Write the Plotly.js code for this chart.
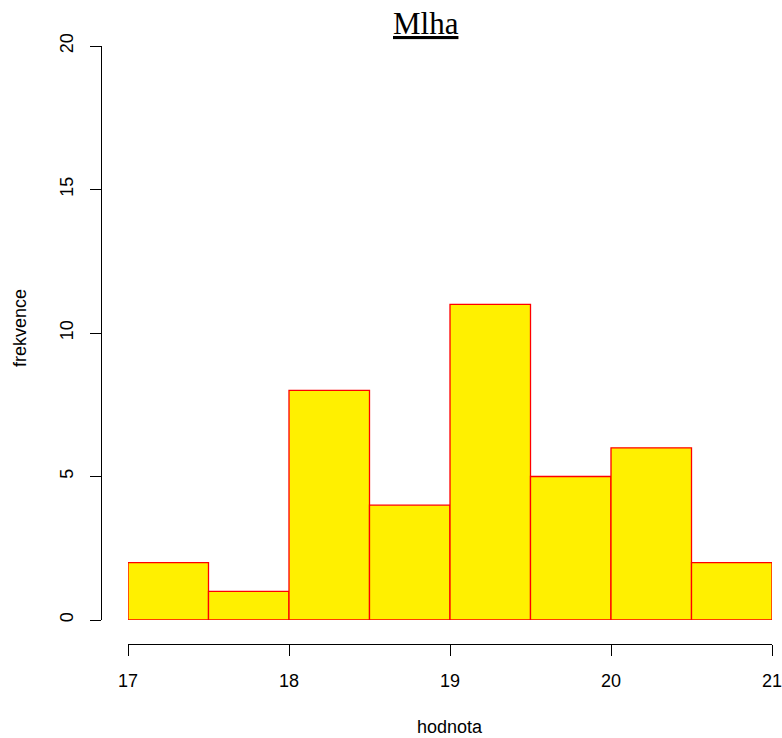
<!DOCTYPE html>
<html>
<head>
<meta charset="utf-8">
<script src="https://cdn.plot.ly/plotly-3.0.1.min.js"></script>
<style>html,body{margin:0;padding:0;background:#fff}#chart{width:782px;height:738px}</style>
</head>
<body>
<div id="chart"></div>
<script>
var binStarts = [17, 17.5, 18, 18.5, 19, 19.5, 20, 20.5];
var binWidth = 0.5;
var counts = [2, 1, 8, 4, 11, 5, 6, 2];
var xTicks = [17, 18, 19, 20, 21];
var yTicks = [0, 5, 10, 15, 20];
var titleText = "Mlha";
var xTitle = "hodnota";
var yTitle = "frekvence";

var W = 782, H = 738;
function px(x){return x / W;}
function py(y){return (H - y) / H;}

var trace = {
  type: 'bar',
  x: binStarts,
  y: counts,
  width: binStarts.map(function(){return binWidth;}),
  offset: 0,
  marker: {color: '#FFF000', line: {color: '#FF0000', width: 1.3}},
  hoverinfo: 'x+y'
};

var tickFont = {family: 'Liberation Sans, Arial, sans-serif', size: 18, color: '#000'};

var layout = {
  width: W, height: H,
  margin: {l: 0, r: 0, t: 0, b: 0},
  paper_bgcolor: '#fff', plot_bgcolor: 'rgba(0,0,0,0)',
  showlegend: false,
  bargap: 0,
  xaxis: {
    domain: [px(128), px(772)],
    range: [17, 21],
    anchor: 'free', position: py(644),
    showgrid: false, zeroline: false,
    showline: true, linecolor: '#000', linewidth: 1,
    ticks: 'outside', ticklen: 11, tickcolor: '#000', tickwidth: 1,
    tickmode: 'array', tickvals: xTicks, ticktext: xTicks.map(String),
    ticklabelstandoff: 9,
    ticklabeloverflow: 'allow',
    tickfont: tickFont, automargin: false
  },
  yaxis: {
    domain: [py(620), py(46)],
    range: [0, 20],
    anchor: 'free', position: px(101),
    showgrid: false, zeroline: false,
    showline: true, linecolor: '#000', linewidth: 1,
    ticks: 'outside', ticklen: 11, tickcolor: '#000', tickwidth: 1,
    tickmode: 'array', tickvals: yTicks, ticktext: yTicks.map(String),
    tickangle: -90,
    ticklabelstandoff: 10,
    ticklabeloverflow: 'allow',
    tickfont: tickFont, automargin: false
  },
  annotations: [
    {text: '<u>' + titleText + '</u>', xref: 'paper', yref: 'paper',
     x: px(426), y: py(23), xanchor: 'center', yanchor: 'middle', showarrow: false,
     font: {family: 'Liberation Serif, Times New Roman, serif', size: 31, color: '#000'}},
    {text: xTitle, xref: 'paper', yref: 'paper',
     x: px(450), y: py(727), xanchor: 'center', yanchor: 'middle', showarrow: false,
     font: {family: 'Liberation Sans, Arial, sans-serif', size: 18, color: '#000'}},
    {text: yTitle, xref: 'paper', yref: 'paper', textangle: -90,
     x: px(20), y: py(328), xanchor: 'center', yanchor: 'middle', showarrow: false,
     font: {family: 'Liberation Sans, Arial, sans-serif', size: 18, color: '#000'}}
  ]
};

Plotly.newPlot('chart', [trace], layout, {displayModeBar: false, staticPlot: true});
</script>
</body>
</html>
